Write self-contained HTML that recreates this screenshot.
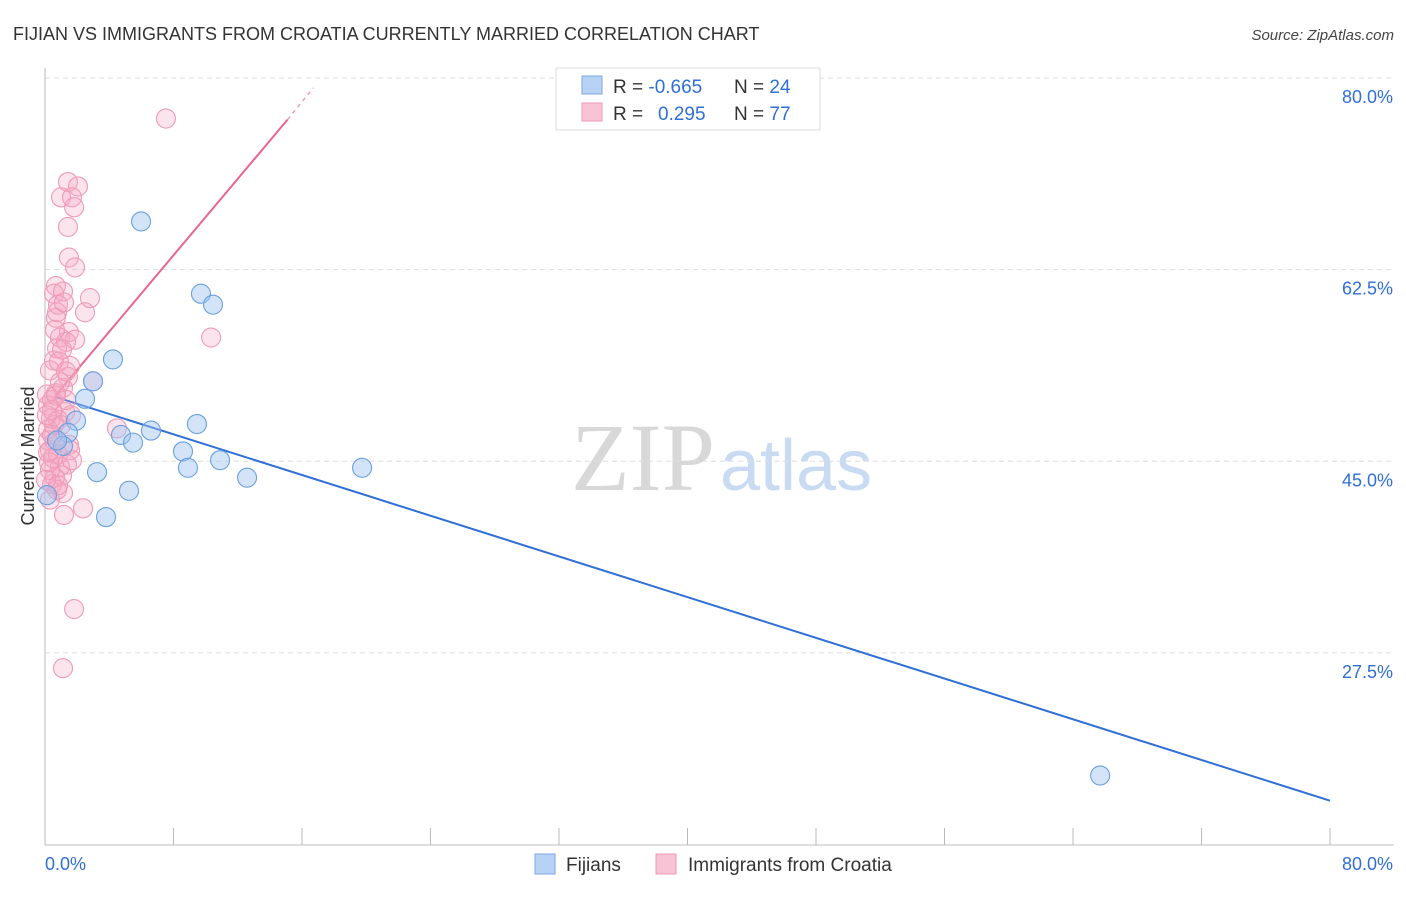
<!DOCTYPE html>
<html><head><meta charset="utf-8"><style>
body{margin:0;background:#fff;font-family:"Liberation Sans",sans-serif}
</style></head><body>
<svg id="chart" width="1406" height="892" xmlns="http://www.w3.org/2000/svg" font-family="Liberation Sans, sans-serif">
<text x="13" y="40" font-size="18" fill="#333">FIJIAN VS IMMIGRANTS FROM CROATIA CURRENTLY MARRIED CORRELATION CHART</text>
<text x="1394" y="40" font-size="15" fill="#444" text-anchor="end" font-style="italic">Source: ZipAtlas.com</text>
<g>
<text x="715" y="490" font-size="96" fill="#d8d8d8" text-anchor="end" font-family="Liberation Serif, serif">ZIP</text>
<text x="720" y="490" font-size="72" fill="#c8dbf2">atlas</text>
</g>
<g id="grid"></g><g id="axes"></g><g id="trend"></g><g id="points"></g>
<text transform="translate(34,456) rotate(-90)" font-size="18" fill="#333" text-anchor="middle">Currently Married</text>
<g>
<rect x="556" y="68" width="264" height="62" fill="#fff" stroke="#ddd"/>
<rect x="582" y="76" width="20" height="18" fill="#b8d2f5" stroke="#7aa8e6"/>
<rect x="582" y="103" width="20" height="18" fill="#f8c3d4" stroke="#ee9ab5"/>
<text x="613" y="93" font-size="19" fill="#333">R = <tspan fill="#2f6fd6">-0.665</tspan><tspan x="734">N = </tspan><tspan fill="#2f6fd6">24</tspan></text>
<text x="613" y="120" font-size="19" fill="#333">R = <tspan x="658" fill="#2f6fd6">0.295</tspan><tspan x="734">N = </tspan><tspan fill="#2f6fd6">77</tspan></text>
</g>
<g>
<rect x="535" y="854" width="20" height="20" fill="#b8d2f5" stroke="#7aa8e6"/>
<text x="566" y="871" font-size="19" fill="#333">Fijians</text>
<rect x="656" y="854" width="20" height="20" fill="#f8c3d4" stroke="#ee9ab5"/>
<text x="688" y="871" font-size="19" fill="#333">Immigrants from Croatia</text>
</g>
</svg>
<script>
const yTicks=[80,62.5,45,27.5];
const yTickLabels=["80.0%","62.5%","45.0%","27.5%"];
const xTickLabels=["0.0%","80.0%"];
const fijiX=[5.98,9.71,10.46,4.23,2.99,2.49,1.93,1.43,4.73,6.60,5.48,9.46,8.59,8.90,10.90,12.58,3.24,5.23,3.80,19.74,65.69,1.12,0.12,0.75];
const fijiY=[66.9,60.3,59.3,54.3,52.3,50.7,48.7,47.6,47.4,47.8,46.7,48.4,45.9,44.4,45.1,43.5,44.0,42.3,39.9,44.4,16.3,46.4,41.9,46.9];
const croX=[7.53,1.43,2.05,1.00,1.68,1.81,1.43,1.49,1.87,0.68,0.56,1.12,2.80,2.49,0.75,0.68,10.34,1.49,0.93,1.31,0.75,0.56,1.56,0.87,1.43,2.99,1.12,0.68,0.44,0.19,1.25,1.62,0.37,0.81,0.19,4.48,1.49,0.62,0.31,0.50,1.37,0.93,1.06,0.62,0.44,1.12,0.75,2.37,1.18,1.81,1.12,0.19,0.31,0.12,0.44,0.81,1.31,0.56,1.56,0.06,0.25,0.93,0.31,0.62,1.06,0.81,1.18,1.68,0.31,0.44,1.00,0.12,1.87,1.31,0.81,0.19,0.68];
const croY=[76.3,70.5,70.1,69.1,69.1,68.2,66.4,63.6,62.7,61.0,60.3,60.5,59.9,58.6,58.6,58.1,56.3,56.8,56.3,55.9,55.3,54.2,53.7,54.1,52.7,52.3,51.7,51.2,50.6,50.1,49.5,49.2,48.9,48.8,47.9,48.0,46.5,46.8,46.0,45.3,44.7,44.5,43.7,43.5,42.9,42.1,42.4,40.7,40.1,31.5,26.1,46.9,44.2,51.1,49.7,45.6,50.6,48.3,46.0,43.3,44.9,52.2,53.3,57.0,55.2,59.3,59.5,45.1,41.5,47.4,48.3,49.2,56.1,53.2,42.8,45.8,51.0];
const fijiTrendX=[0.6,80],fijiTrendY=[50.9,14.0];
const croTrendX=[0.6,15.1],croTrendY=[50.9,76.2];
const croTrendExtX=[15.1,16.7],croTrendExtY=[76.2,79.1];

const X0=45,X1=1330,Y0=78,YS=10.95;
const sx=v=>X0+v*(X1-X0)/80;
const sy=v=>Y0+(80-v)*YS;
const NS="http://www.w3.org/2000/svg";
function mk(p,t,a){const e=document.createElementNS(NS,t);for(const k in a)e.setAttribute(k,a[k]);p.appendChild(e);return e;}
const grid=document.getElementById('grid'),axes=document.getElementById('axes'),trend=document.getElementById('trend'),pts=document.getElementById('points');
yTicks.forEach((t,i)=>{
 const l=mk(grid,'line',{x1:X0,x2:1394,y1:sy(t),y2:sy(t),stroke:'#ddd','stroke-dasharray':'5,4'});
 
 
 const tx=mk(axes,'text',{x:1393,y:sy(t)+25,'font-size':18,fill:'#2f6fd6','text-anchor':'end'});
 tx.textContent=yTickLabels[i];
 
 
});
const ax=mk(axes,'line',{x1:X0,x2:X0,y1:68,y2:845,stroke:'#bbb'});


const bx=mk(axes,'line',{x1:X0,x2:1394,y1:845,y2:845,stroke:'#bbb'});


for(let i=0;i<=10;i++){
 const t=mk(axes,'line',{x1:sx(i*8),x2:sx(i*8),y1:828,y2:845,stroke:'#bbb'});
 
 
}
[[0,'start',45],[80,'end',1393]].forEach((d,i)=>{
 const t=mk(axes,'text',{x:d[2],y:870,'font-size':18,fill:'#2f6fd6','text-anchor':d[1]});
 t.textContent=xTickLabels[i];
 
 
});
const t1=mk(trend,'line',{x1:sx(fijiTrendX[0]),y1:sy(fijiTrendY[0]),x2:sx(fijiTrendX[1]),y2:sy(fijiTrendY[1]),stroke:'#2f6fd6','stroke-width':2});


const t2=mk(trend,'line',{x1:sx(croTrendX[0]),y1:sy(croTrendY[0]),x2:sx(croTrendX[1]),y2:sy(croTrendY[1]),stroke:'#e8668f','stroke-width':2});


const t3=mk(trend,'line',{x1:sx(croTrendExtX[0]),y1:sy(croTrendExtY[0]),x2:sx(croTrendExtX[1]),y2:sy(croTrendExtY[1]),stroke:'#f0a0b8','stroke-width':1.5,'stroke-dasharray':'4,4'});


croX.forEach((x,i)=>{
 const c=mk(pts,'circle',{cx:sx(x),cy:sy(croY[i]),r:9.5,fill:'rgba(245,165,195,0.3)',stroke:'#ef9bb6','stroke-width':1.1});
 
 
});
fijiX.forEach((x,i)=>{
 const c=mk(pts,'circle',{cx:sx(x),cy:sy(fijiY[i]),r:9.5,fill:'rgba(160,196,240,0.45)',stroke:'#6a9fe0','stroke-width':1.1});
 
 
});
</script>
</body></html>
